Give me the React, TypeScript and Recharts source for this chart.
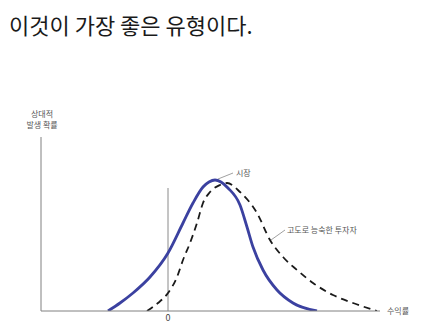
import React from 'react'
import { LineChart, Line, XAxis, YAxis, ReferenceLine } from 'recharts'

// x: 수익률 (상대 단위), y: 상대적 발생 확률
const marketX = [-6.0, -4.8, -3.5, -1.8, 0, 1.5, 2.5, 3.5, 4.1, 4.7, 5.3, 6.0, 7.2, 7.9, 8.5, 9.5, 10.9, 12.5, 14.9]
const marketY = [0, 0.8, 1.8, 3.4, 5.8, 8.8, 10.8, 12.4, 12.9, 13.1, 12.9, 12.3, 10.6, 8.4, 6.4, 4.1, 2.1, 0.8, 0]

const skilledX = [-2.1, -1.0, 0, 0.9, 1.5, 2.2, 2.9, 3.5, 4.2, 5.2, 5.9, 7.2, 8.9, 10.2, 11.5, 12.9, 14.5, 16.5, 18.5, 20.9]
const skilledY = [0, 0.8, 1.8, 3.4, 5.1, 6.8, 8.8, 10.8, 11.9, 12.6, 12.8, 11.9, 9.8, 7.1, 5.4, 4.1, 2.8, 1.6, 0.8, 0]

const xTicks = [0]
const zeroLineTop = 12.3

const market = marketX.map((x, i) => ({ x, y: marketY[i] }))
const skilled = skilledX.map((x, i) => ({ x, y: skilledY[i] }))

const font = '"Noto Sans CJK KR", "Noto Sans", sans-serif'

const note: React.CSSProperties = {
  position: 'absolute',
  fontSize: 8,
  color: '#555',
  lineHeight: '10px',
  whiteSpace: 'nowrap',
}

export default function App() {
  return (
    <div style={{ position: 'absolute', left: 0, top: 0, width: 427, height: 327, background: '#fff', fontFamily: font }}>
      <div style={{ position: 'absolute', left: 9, top: 13, fontSize: 22, lineHeight: '22px', color: '#1a1a1a', whiteSpace: 'nowrap' }}>
        이것이 가장 좋은 유형이다.
      </div>
      <LineChart width={427} height={327} data={market} margin={{ top: 137, right: 47, bottom: 0, left: 40 }}>
        <XAxis
          dataKey="x"
          type="number"
          domain={[-12.7, 21.2]}
          allowDataOverflow
          ticks={xTicks}
          tickLine={false}
          tickSize={0}
          tickMargin={4}
          height={16}
          stroke="#808080"
          tick={{ fontSize: 9, fill: '#444', fontFamily: font }}
        />
        <YAxis type="number" domain={[0, 17.4]} allowDataOverflow tick={false} tickLine={false} width={1} stroke="#808080" />
        <ReferenceLine segment={[{ x: 0, y: 0 }, { x: 0, y: zeroLineTop }]} stroke="#8a8a8a" strokeWidth={1} />
        <ReferenceLine segment={[{ x: 5.0, y: 13.2 }, { x: 6.5, y: 13.8 }]} stroke="#888" strokeWidth={0.8} />
        <ReferenceLine segment={[{ x: 10.3, y: 7.1 }, { x: 11.7, y: 8.1 }]} stroke="#888" strokeWidth={0.8} />
        <Line
          data={skilled}
          dataKey="y"
          type="monotone"
          stroke="#1a1a1a"
          strokeWidth={1.8}
          strokeDasharray="7 5"
          dot={false}
          activeDot={false}
          isAnimationActive={false}
        />
        <Line
          data={market}
          dataKey="y"
          type="monotone"
          stroke="#3b41a0"
          strokeWidth={2.8}
          dot={false}
          activeDot={false}
          isAnimationActive={false}
        />
      </LineChart>
      <div style={{ ...note, left: 30, top: 109, textAlign: 'center', width: 24 }}>상대적</div>
      <div style={{ ...note, left: 22, top: 120, textAlign: 'center', width: 40 }}>발생 확률</div>
      <div style={{ ...note, left: 236, top: 168 }}>시장</div>
      <div style={{ ...note, left: 287, top: 225 }}>고도로 능숙한 투자자</div>
      <div style={{ ...note, left: 387, top: 306 }}>수익률</div>
    </div>
  )
}
